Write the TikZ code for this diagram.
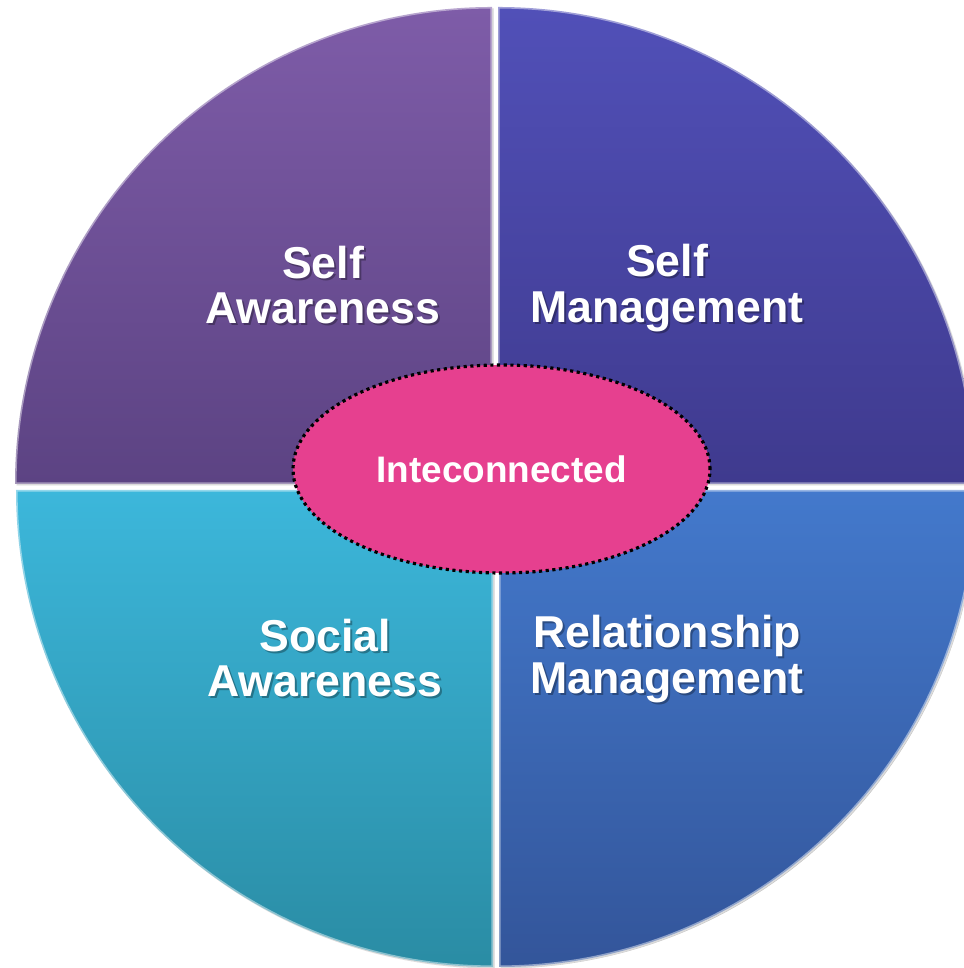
\documentclass[tikz,border=0pt]{standalone}
\usepackage{fontspec}
\setmainfont{Liberation Sans}
\usetikzlibrary{shapes.geometric}

\definecolor{tlTop}{HTML}{7E5CA8}
\definecolor{tlBot}{HTML}{5C4383}
\definecolor{trTop}{HTML}{5150B8}
\definecolor{trBot}{HTML}{3F3A8E}
\definecolor{blTop}{HTML}{3CB7DB}
\definecolor{blBot}{HTML}{2A8CA4}
\definecolor{brTop}{HTML}{4379CC}
\definecolor{brBot}{HTML}{33559A}
\definecolor{pinkfill}{HTML}{E6408F}

\tikzset{
  quad/.style={draw=white, draw opacity=0.45, line width=0.9pt},
  lbl/.style={text=white, font=\bfseries\fontsize{12.7}{12.9}\selectfont, align=center, inner sep=0},
  lblshadow/.style={lbl, text=black, text opacity=0.3}
}

\begin{document}
\begin{tikzpicture}
  \useasboundingbox (0,0) rectangle (9.63,9.68);

  \foreach \cx/\cy/\a/\ctop/\cbot in {4.92/4.84/90/tlTop/tlBot, 4.98/4.84/0/trTop/trBot,
                                      4.93/4.78/180/blTop/blBot, 4.99/4.78/270/brTop/brBot} {
    \fill[black!25] (\cx+0.015,\cy-0.015) -- ++(\a:4.77)
      arc[start angle=\a, end angle=\a+90, radius=4.77] -- cycle;
    \shade[quad, top color=\ctop, bottom color=\cbot] (\cx,\cy) -- ++(\a:4.77)
      arc[start angle=\a, end angle=\a+90, radius=4.77] -- cycle;
  }

  % labels
  \foreach \x/\y/\txt/\n in {3.23/6.83/{Self\\Awareness}/sa, 6.67/6.80/{Self\\Management}/sm,
                             3.25/3.10/{Social\\Awareness}/soa, 6.67/3.09/{Relationship\\Management}/rm} {
    \node[lblshadow] at (\x+0.02,\y-0.02) {\txt};
    \node[lbl] (\n) at (\x,\y) {\txt};
  }

  \node[ellipse, fill=pinkfill, draw=black, densely dotted, line width=0.9pt,
        minimum width=4.17cm, minimum height=2.08cm, inner sep=0,
        text=white, font=\bfseries\fontsize{10.5}{12}\selectfont] (ic) at (5.015,4.99) {Inteconnected};
\end{tikzpicture}
\end{document}
